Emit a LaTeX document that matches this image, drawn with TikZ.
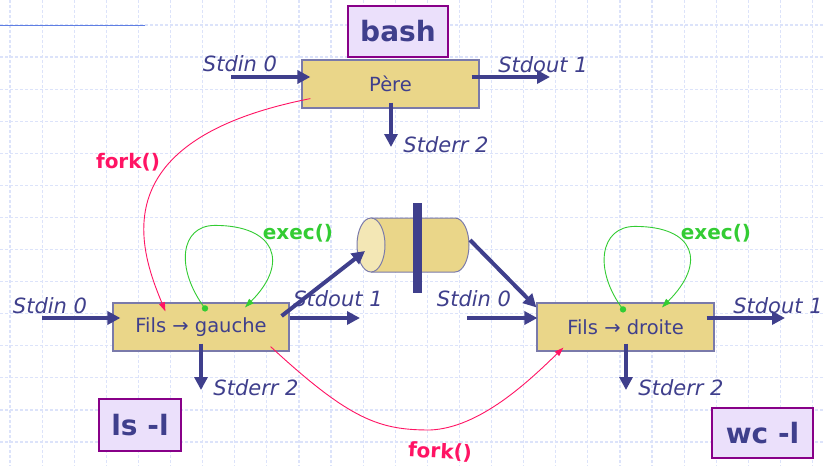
\documentclass[tikz,border=0pt]{standalone}
\usepackage{fontspec}
\setmainfont{DejaVu Sans}
\usetikzlibrary{arrows.meta,calc}
\definecolor{ink}{HTML}{3F3F8C}
\definecolor{boxfill}{HTML}{EAD689}
\definecolor{boxline}{HTML}{7A7AAA}
\definecolor{tagfill}{HTML}{EBE0FB}
\definecolor{tagline}{HTML}{880088}
\definecolor{forkc}{HTML}{FF1464}
\definecolor{execc}{HTML}{33CC33}
\definecolor{gridc}{HTML}{DCE3FA}
\definecolor{rulec}{HTML}{5F7FE3}
\definecolor{pipelight}{HTML}{F3E7B5}
\tikzset{
  proc/.style={draw=boxline, line width=1.2pt, fill=boxfill, text=ink,
    font=\fontsize{19.5}{22}\selectfont, inner sep=0pt,
    minimum width=176pt, minimum height=48pt},
  tag/.style={draw=tagline, line width=2pt, fill=tagfill, text=ink,
    font=\fontsize{28}{32}\selectfont\bfseries, inner sep=0pt},
  stream/.style={text=ink, font=\fontsize{21}{24}\selectfont\itshape, inner sep=0pt},
  io/.style={draw=ink, line width=4pt, -{Triangle[length=13pt,width=13pt]}},
  forkarrow/.style={draw=forkc, line width=0.9pt, -{Triangle[length=9pt,width=6pt]}},
  execarrow/.style={draw=execc, line width=0.9pt, -{Triangle[length=9pt,width=6pt]}},
  forklabel/.style={text=forkc, font=\fontsize{20}{24}\selectfont\bfseries, inner sep=0pt},
  execlabel/.style={text=execc, font=\fontsize{20}{24}\selectfont\bfseries, inner sep=0pt},
  gridline/.style={draw=gridc, line width=1.2pt, dash pattern=on 3pt off 2pt},
}
\begin{document}
\begin{tikzpicture}[x=1pt,y=-1pt]
\useasboundingbox (0,0) rectangle (823,466);
\fill[white] (0,0) rectangle (823,466);

% squared paper background
\foreach \i in {0,...,25} \draw[gridline] ({10+32.1*\i},0) -- ({10+32.1*\i},466);
\foreach \j in {0,...,13} \draw[gridline] (0,{25+32.08*\j}) -- (823,{25+32.08*\j});
\draw[rulec, line width=1pt] (0,25) -- (145,25);

% command tags
\node[tag, minimum width=100pt, minimum height=51pt] (bash) at (398,31.5) {bash};
\node[tag, minimum width=82pt, minimum height=52pt] (ls) at (140,425) {ls -l};
\node[tag, minimum width=101pt, minimum height=50pt] (wc) at (762.5,433) {wc  -l};

% processes
\node[proc, minimum width=177pt] (pere) at (390.5,84) {Père};
\node[proc] (gauche) at (201,327) {Fils → gauche};
\node[proc, minimum width=177pt] (droite) at (625.5,327) {Fils → droite};

% pipe
\fill[boxfill] (371,218) rectangle (455,272);
\draw[boxline, line width=1pt, fill=boxfill] (371,218) -- (455,218)
  arc[start angle=-90, end angle=90, x radius=14, y radius=27] -- (371,272);
\draw[boxline, line width=1pt, fill=pipelight] (371,245) ellipse [x radius=14, y radius=27];
\fill[ink] (413,203) rectangle (422,293);
\coordinate (pipein) at (365,251);
\coordinate (pipeout) at (470,240);

% free ends of the standard streams
\coordinate (pin) at (231,77);
\coordinate (pout) at (550,77);
\coordinate (perr) at (391,147);
\coordinate (gin) at (42,318);
\coordinate (gout) at (360,318);
\coordinate (gerr) at (201,390);
\coordinate (din) at (467,318);
\coordinate (dout) at (785,318);
\coordinate (derr) at (626,390);

% stream arrows
\draw[io] (pin) -- ($(pere.west)+(9,-7)$);
\draw[io] ($(pere.east)+(-8,-7)$) -- (pout);
\draw[io] ($(pere.south)+(0.5,-6)$) -- (perr);
\draw[io] (gin) -- ($(gauche.west)+(8,-9)$);
\draw[io] ($(gauche.east)+(0,-9)$) -- (gout);
\draw[io] ($(gauche.south)+(0,-8)$) -- (gerr);
\draw[io] ($(gauche.east)+(-8,-11)$) -- (pipein);
\draw[io] (din) -- ($(droite.west)+(1,-9)$);
\draw[io] (pipeout) -- ($(droite.north west)+(0,5)$);
\draw[io] ($(droite.east)+(-8,-9)$) -- (dout);
\draw[io] ($(droite.south)+(0.5,-8)$) -- (derr);

% stream labels
\node[stream] (lpin) at (240,64) {Stdin 0};
\node[stream] (lpout) at (543,65) {Stdout 1};
\node[stream] (lperr) at (446,145) {Stderr 2};
\node[stream] (lgin) at (50,306) {Stdin 0};
\node[stream] (lgout) at (338,299) {Stdout 1};
\node[stream] (lgerr) at (256,388) {Stderr 2};
\node[stream] (ldin) at (474,299) {Stdin 0};
\node[stream] (ldout) at (778,306) {Stdout 1};
\node[stream] (lderr) at (681,388) {Stderr 2};

% fork() calls
\draw[forkarrow] ($(pere.south west)+(9,-10)$)
  .. controls (100,140) and (140,250) .. ($(gauche.north west)+(53,9)$);
\draw[forkarrow] ($(gauche.south east)+(-19,-5)$)
  .. controls +(80,74) and +(-50,0) .. (430,430)
  .. controls +(50,-2) and +(-34,33) .. ($(droite.south west)+(27,-4)$);
\node[forklabel] (fork1) at (128,162) {fork()};
\node[forklabel, rotate=-3] (fork2) at (440,452) {fork()};

% exec() loops
\coordinate (gx0) at ($(gauche.north)+(4,6)$);
\coordinate (gx1) at ($(gauche.north)+(44,5)$);
\fill[execc] (gx0) circle (3.2);
\draw[execarrow] (gx0) .. controls +(-30,-40) and +(-35,0) .. ++(10,-83)
  .. controls +(60,0) and +(45,-45) .. (gx1);
\coordinate (dx0) at ($(droite.north)+(-2.5,7)$);
\coordinate (dx1) at ($(droite.north)+(36.5,5)$);
\fill[execc] (dx0) circle (3.2);
\draw[execarrow] (dx0) .. controls +(-30,-40) and +(-35,0) .. ++(12,-83)
  .. controls +(60,0) and +(45,-45) .. (dx1);
\node[execlabel] (exec1) at (298,233) {exec()};
\node[execlabel] (exec2) at (716,233) {exec()};
\end{tikzpicture}
\end{document}
